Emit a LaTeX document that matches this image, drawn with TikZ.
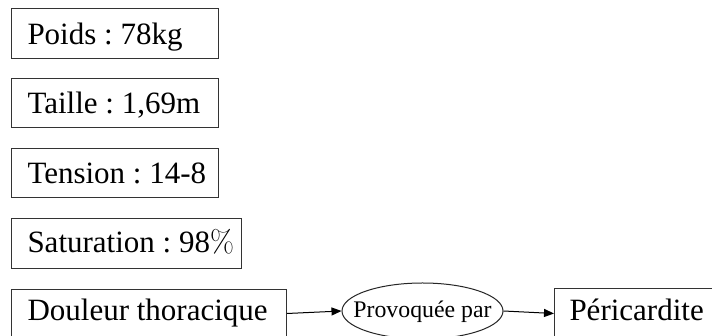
\documentclass[tikz,border=0pt]{standalone}
\usepackage{fontspec}
\newfontfamily\tnr{Liberation Serif}
\usetikzlibrary{arrows.meta,shapes.geometric}
\frenchspacing
\tikzset{
  box/.style={draw=black!80, line width=1pt, anchor=north west, inner ysep=0pt, inner xsep=16pt,
    font=\tnr\fontsize{31}{36}\selectfont},
  oval/.style={ellipse, draw=black!85, line width=1pt, inner sep=0pt, minimum width=161pt,
    minimum height=56pt, text height=0pt, text depth=0pt, font=\tnr\fontsize{23.8}{28}\selectfont},
  arr/.style={draw=black, line width=1pt, -{Triangle[length=10pt,width=8pt]}}
}
\newcommand\lbox[2]{\makebox[#1][l]{#2}}
\begin{document}
\begin{tikzpicture}[x=1pt,y=1pt]
\fill[white] (0,0) rectangle (712,336);
\clip (0,0) rectangle (712,336);
\node[box, text height=36pt, text depth=14pt] (poids) at (11,328) {\lbox{175pt}{Poids : 78kg}};
\node[box, text height=35pt, text depth=14pt] (taille) at (11,258) {\lbox{175pt}{Taille : 1,69m}};
\node[box, text height=35pt, text depth=14pt] (tension) at (11,188) {\lbox{175pt}{Tension : 14-8}};
\node[box, text height=34pt, text depth=16pt] (saturation) at (11,118) {\lbox{198pt}{Saturation : 98{\rmfamily\%}}};
\node[box, text height=31pt, text depth=17pt] (douleur) at (11,47) {\lbox{243pt}{Douleur thoracique}};
\node[box, inner xsep=15pt, text height=32pt, text depth=18pt] (peri) at (554,48) {\lbox{170pt}{Péricardite}};
\node[oval] (prov) at (422.5,25) {\raisebox{-7pt}[0pt][0pt]{\makebox[0pt]{Provoquée par}}};
\draw[arr] (douleur.east) -- (prov.west);
\draw[arr] (prov.east) -- (peri.west);
\end{tikzpicture}
\end{document}
